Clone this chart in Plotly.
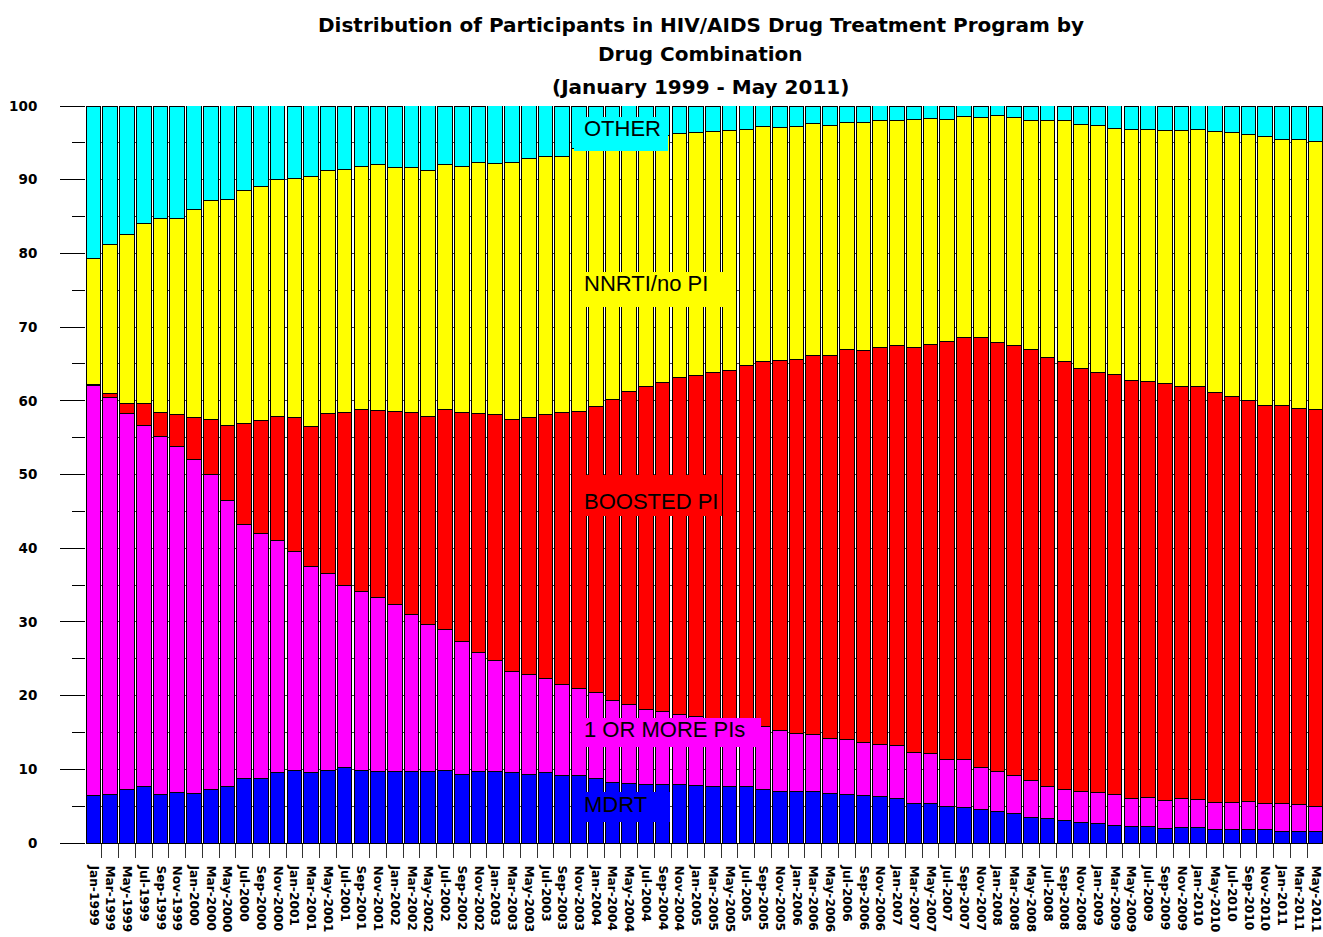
import plotly.graph_objects as go

months = [
    "Jan-1999", "Mar-1999", "May-1999", "Jul-1999", "Sep-1999", "Nov-1999",
    "Jan-2000", "Mar-2000", "May-2000", "Jul-2000", "Sep-2000", "Nov-2000",
    "Jan-2001", "Mar-2001", "May-2001", "Jul-2001", "Sep-2001", "Nov-2001",
    "Jan-2002", "Mar-2002", "May-2002", "Jul-2002", "Sep-2002", "Nov-2002",
    "Jan-2003", "Mar-2003", "May-2003", "Jul-2003", "Sep-2003", "Nov-2003",
    "Jan-2004", "Mar-2004", "May-2004", "Jul-2004", "Sep-2004", "Nov-2004",
    "Jan-2005", "Mar-2005", "May-2005", "Jul-2005", "Sep-2005", "Nov-2005",
    "Jan-2006", "Mar-2006", "May-2006", "Jul-2006", "Sep-2006", "Nov-2006",
    "Jan-2007", "Mar-2007", "May-2007", "Jul-2007", "Sep-2007", "Nov-2007",
    "Jan-2008", "Mar-2008", "May-2008", "Jul-2008", "Sep-2008", "Nov-2008",
    "Jan-2009", "Mar-2009", "May-2009", "Jul-2009", "Sep-2009", "Nov-2009",
    "Jan-2010", "May-2010", "Jul-2010", "Sep-2010", "Nov-2010",
    "Jan-2011", "Mar-2011", "May-2011",
]

mdrt = [
    6.5, 6.6, 7.2, 7.6, 6.6, 6.8, 6.7, 7.2, 7.6, 8.7,
    8.7, 9.5, 9.9, 9.5, 9.8, 10.2, 9.9, 9.7, 9.7, 9.7,
    9.7, 9.8, 9.3, 9.7, 9.7, 9.5, 9.3, 9.5, 9.2, 9.2,
    8.8, 8.2, 8.1, 7.9, 8.0, 7.9, 7.8, 7.7, 7.6, 7.6,
    7.3, 7.0, 7.0, 7.0, 6.7, 6.6, 6.5, 6.3, 6.1, 5.4,
    5.3, 4.9, 4.8, 4.6, 4.3, 4.0, 3.5, 3.3, 3.0, 2.8,
    2.6, 2.4, 2.2, 2.2, 2.0, 2.1, 2.1, 1.9, 1.9, 1.9,
    1.8, 1.6, 1.6, 1.6,
]

one_or_more_pis = [
    55.6, 53.9, 51.1, 49.0, 48.5, 47.0, 45.4, 42.8, 38.9, 34.5,
    33.3, 31.5, 29.6, 28.0, 26.8, 24.8, 24.2, 23.6, 22.7, 21.3,
    19.9, 19.2, 18.1, 16.1, 15.1, 13.8, 13.5, 12.8, 12.3, 11.8,
    11.6, 11.1, 10.7, 10.2, 9.9, 9.5, 9.4, 9.1, 8.9, 8.6,
    8.5, 8.3, 7.9, 7.7, 7.5, 7.5, 7.2, 7.1, 7.1, 6.9,
    6.8, 6.4, 6.5, 5.6, 5.4, 5.1, 5.0, 4.4, 4.2, 4.2,
    4.3, 4.2, 3.8, 4.0, 3.8, 3.9, 3.8, 3.6, 3.6, 3.7,
    3.6, 3.8, 3.6, 3.4,
]

boosted_pi = [
    0.1, 0.5, 1.4, 3.0, 3.3, 4.3, 5.6, 7.5, 10.1, 13.7,
    15.3, 16.9, 18.2, 19.0, 21.7, 23.4, 24.7, 25.4, 26.2, 27.4,
    28.3, 29.8, 31.0, 32.5, 33.4, 34.2, 34.9, 35.9, 36.9, 37.6,
    38.8, 40.9, 42.5, 43.9, 44.6, 45.7, 46.3, 47.1, 47.6, 48.6,
    49.6, 50.2, 50.7, 51.4, 52.0, 52.9, 53.1, 53.8, 54.3, 55.0,
    55.6, 56.7, 57.3, 58.4, 58.2, 58.4, 58.5, 58.2, 58.2, 57.4,
    56.9, 57.0, 56.8, 56.4, 56.5, 56.0, 56.1, 55.6, 55.1, 54.5,
    54.0, 53.9, 53.8, 53.8,
]

nnrti_no_pi = [
    17.1, 20.2, 22.8, 24.5, 26.4, 26.6, 28.3, 29.7, 30.7, 31.6,
    31.8, 32.1, 32.4, 33.9, 32.9, 33.0, 33.0, 33.4, 33.1, 33.2,
    33.3, 33.2, 33.4, 34.1, 34.0, 34.9, 35.2, 35.0, 34.8, 35.6,
    35.3, 34.7, 34.1, 33.7, 33.5, 33.2, 32.9, 32.7, 32.6, 32.0,
    31.8, 31.6, 31.6, 31.5, 31.2, 30.8, 30.9, 30.8, 30.6, 30.9,
    30.6, 30.2, 30.0, 29.8, 30.8, 31.0, 31.1, 32.1, 32.6, 33.1,
    33.5, 33.4, 34.0, 34.2, 34.4, 34.7, 34.8, 35.5, 35.8, 36.1,
    36.4, 36.1, 36.4, 36.4,
]

other = [
    20.7, 18.8, 17.5, 15.9, 15.2, 15.3, 14.1, 12.8, 12.8, 11.5,
    11.0, 10.1, 9.9, 9.7, 8.8, 8.6, 8.2, 7.9, 8.3, 8.5,
    8.9, 8.0, 8.2, 7.6, 7.9, 7.7, 7.2, 6.9, 6.8, 5.8,
    5.5, 5.1, 4.7, 4.3, 4.0, 3.7, 3.6, 3.4, 3.4, 3.3,
    2.9, 2.9, 2.8, 2.4, 2.5, 2.2, 2.3, 2.1, 1.9, 1.8,
    1.8, 1.7, 1.5, 1.6, 1.5, 1.5, 1.9, 2.1, 2.0, 2.4,
    2.7, 3.1, 3.2, 3.3, 3.3, 3.3, 3.3, 3.5, 3.6, 3.8,
    4.2, 4.6, 4.6, 4.8,
]

series = [
    ("MDRT", mdrt, "#0000FF"),
    ("1 OR MORE PIs", one_or_more_pis, "#FF00FF"),
    ("BOOSTED PI", boosted_pi, "#FF0000"),
    ("NNRTI/no PI", nnrti_no_pi, "#FFFF00"),
    ("OTHER", other, "#00FFFF"),
]

fig = go.Figure()
for name, vals, color in series:
    fig.add_bar(
        x=months, y=vals, name=name,
        marker=dict(color=color, line=dict(color="black", width=1)),
    )

fig.update_layout(
    barmode="stack",
    bargap=0.125,
    showlegend=False,
    width=1323,
    height=937,
    margin=dict(l=86, r=0, t=106, b=94, autoexpand=False),
    plot_bgcolor="white",
    paper_bgcolor="white",
)

fig.update_xaxes(
    type="category",
    range=[-0.45, 73.45],
    automargin=False,
    tickangle=90,
    tickson="boundaries",
    ticks="outside",
    ticklen=14,
    tickcolor="#333333",
    showline=True,
    linecolor="black",
    linewidth=1,
    showgrid=False,
    tickfont=dict(family="DejaVu Sans", size=12.2, color="black", weight="bold"),
    ticklabelstandoff=19,
)

fig.update_yaxes(
    range=[0, 100],
    automargin=False,
    dtick=10,
    ticks="outside",
    ticklen=25,
    tickcolor="black",
    showline=False,
    zeroline=False,
    showgrid=True,
    gridcolor="#444444",
    gridwidth=1,
    minor=dict(dtick=5, ticks="outside", ticklen=13, tickcolor="black",
               showgrid=True, gridcolor="#444444", gridwidth=1),
    tickfont=dict(family="DejaVu Sans", size=13.5, color="black", weight="bold"),
    ticklabelstandoff=20,
)

# Title lines
title_font = dict(family="DejaVu Sans", size=20, color="black", weight="bold")
for txt, yp in [
    ("Distribution of Participants in HIV/AIDS Drug Treatment Program by", 1.110),
    ("Drug Combination", 1.0706),
    ("(January 1999 - May 2011)", 1.0258),
]:
    fig.add_annotation(text=txt, xref="paper", yref="paper", x=0.497, y=yp,
                       xanchor="center", yanchor="middle", showarrow=False,
                       font=title_font)

# Label boxes inside the chart
boxes = [
    ("OTHER", "#00FFFF", 0.3945, 0.4705, 0.939, 0.985, 0.970),
    ("NNRTI/no PI", "#FFFF00", 0.3945, 0.515, 0.7273, 0.7748, 0.759),
    ("BOOSTED PI", "#FF0000", 0.3953, 0.5142, 0.4437, 0.4993, 0.4627),
    ("1 OR MORE PIs", "#FF00FF", 0.3945, 0.5457, 0.1303, 0.1696, 0.154),
    ("MDRT", "#0000FF", 0.3937, 0.4721, 0.0285, 0.0692, 0.0522),
]
for txt, col, x0, x1, y0, y1, ty in boxes:
    fig.add_shape(type="rect", xref="paper", yref="paper", x0=x0, x1=x1,
                  y0=y0, y1=y1, fillcolor=col, line=dict(width=0), layer="above")
    fig.add_annotation(text=txt, xref="paper", yref="paper", x=0.401, y=ty,
                       xanchor="left", yanchor="middle", showarrow=False,
                       font=dict(family="Liberation Sans", size=22, color="black"))

fig.write_html(
    "out.html",
    config={"displayModeBar": False},
    post_script="document.body.style.margin='0';document.body.style.overflow='hidden';",
)
